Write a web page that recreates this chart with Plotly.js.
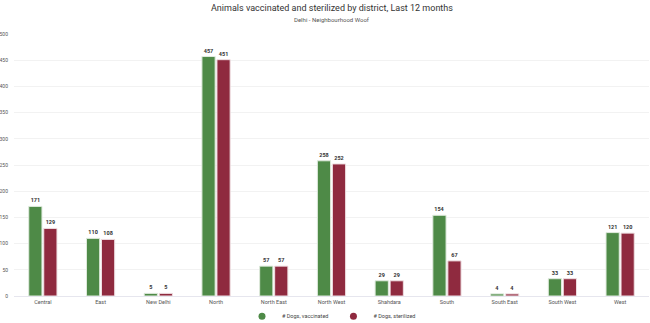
<!DOCTYPE html>
<html><head><meta charset="utf-8">
<script src="https://cdn.plot.ly/plotly-3.0.1.min.js"></script>
<style>html,body{margin:0;padding:0;background:#fff}#c{width:650px;height:323px}</style>
</head><body><div id="c"></div>
<script>
const districts = ["Central","East","New Delhi","North","North East","North West","Shahdara","South","South East","South West","West"];
const vaccinated = [171,110,5,457,57,258,29,154,4,33,121];
const sterilized = [129,108,5,451,57,252,29,67,4,33,120];
const seriesNames = ["# Dogs, vaccinated","# Dogs, sterilized"];
const seriesColors = ['#4e8a47','#8f2a3f'];
const yTicks = [0,50,100,150,200,250,300,350,400,450,500];

const txt = {size:5.5,color:'#333',family:'Roboto',weight:'bold'};
const data = [
  {type:'bar', x:districts, y:vaccinated, name:seriesNames[0], text:vaccinated.map(String), textposition:'outside', cliponaxis:false, textfont:txt, showlegend:false, marker:{color:seriesColors[0], line:{color:'#dfeadd',width:1}}},
  {type:'bar', x:districts, y:sterilized, name:seriesNames[1], text:sterilized.map(String), textposition:'outside', cliponaxis:false, textfont:txt, showlegend:false, marker:{color:seriesColors[1], line:{color:'#efdfe2',width:1}}},
  {type:'scatter', mode:'markers', x:[null], y:[null], name:seriesNames[0], marker:{symbol:'circle', size:7, color:seriesColors[0]}},
  {type:'scatter', mode:'markers', x:[null], y:[null], name:seriesNames[1], marker:{symbol:'circle', size:7, color:seriesColors[1]}}
];
const layout = {
  width:650, height:323,
  margin:{l:14, r:1, t:34, b:27, autoexpand:false},
  paper_bgcolor:'#fff', plot_bgcolor:'#fff',
  font:{family:'Roboto', size:5.5, color:'#555'},
  annotations:[
    {text:'Animals vaccinated and sterilized by district, Last 12 months', xref:'paper', yref:'paper', x:0.5, y:1, yshift:26, xanchor:'center', yanchor:'middle', showarrow:false, font:{size:9, color:'#333', family:'Roboto'}},
    {text:'Delhi - Neighbourhood Woof', xref:'paper', yref:'paper', x:0.5, y:1, yshift:15, xanchor:'center', yanchor:'middle', showarrow:false, font:{size:6, color:'#555', family:'Roboto'}}
  ],
  barmode:'group', bargap:0.48, bargroupgap:0.12,
  xaxis:{showgrid:false, tickfont:{size:5.5,color:'#555'}, ticks:'', linecolor:'#e6e6ee', showline:true, automargin:false, fixedrange:true},
  yaxis:{range:[0,500], tickvals:yTicks, gridcolor:'#f2f2f2', zeroline:false, tickfont:{size:5,color:'#555'}, ticks:'', automargin:false, ticklabelstandoff:5},
  showlegend:true,
  legend:{orientation:'h', x:0.5, xanchor:'center', y:-0.077, yanchor:'middle', bgcolor:'rgba(0,0,0,0)', font:{size:5.5,color:'#444'}, tracegroupgap:0},
};
Plotly.newPlot('c', data, layout, {displayModeBar:false, staticPlot:true});
</script></body></html>
